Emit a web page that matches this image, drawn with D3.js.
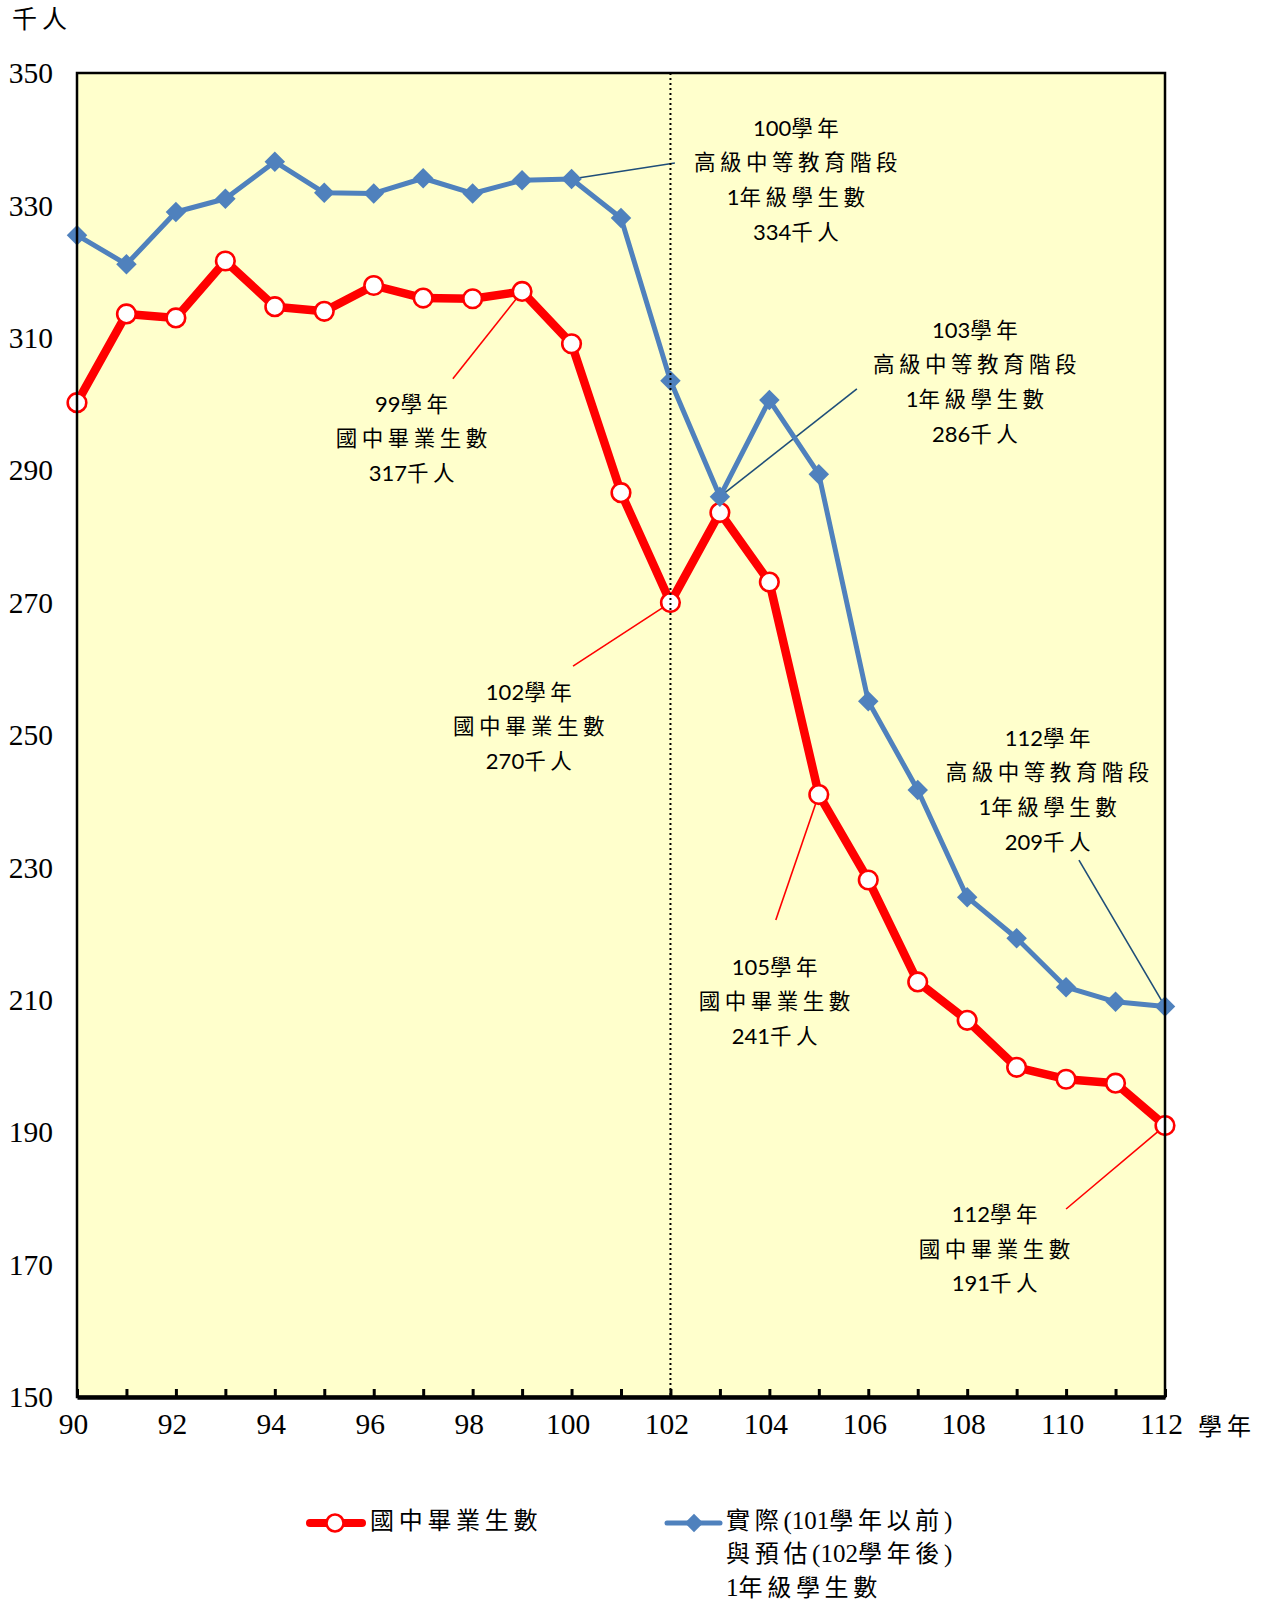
<!DOCTYPE html>
<html>
<head>
<meta charset="utf-8">
<script src="https://cdn.jsdelivr.net/npm/d3@7"></script>
<style>
  html, body { margin: 0; padding: 0; background: #ffffff; }
  svg { display: block; }
</style>
</head>
<body>
<svg id="chart" width="1266" height="1603"></svg>
<script>
// ---------- DATA ----------
const years = [90, 91, 92, 93, 94, 95, 96, 97, 98, 99, 100, 101, 102, 103, 104, 105, 106, 107, 108, 109, 110, 111, 112];
const graduates = [300.2, 313.6, 313.0, 321.6, 314.7, 314.0, 317.9, 316.0, 315.9, 317, 309.1, 286.6, 270, 283.6, 273.1, 241, 228.1, 212.7, 206.9, 199.8, 198.0, 197.4, 191];
const firstGrade = [325.5, 321.1, 329.0, 331.0, 336.6, 331.9, 331.8, 334.1, 331.8, 333.8, 334, 328.1, 303.5, 286, 300.6, 289.4, 255.1, 241.7, 225.5, 219.3, 211.9, 209.7, 209];
const yTicks = [150, 170, 190, 210, 230, 250, 270, 290, 310, 330, 350];
const xLabelYears = [90, 92, 94, 96, 98, 100, 102, 104, 106, 108, 110, 112];
const splitYear = 102;
const seriesNames = ["國中畢業生數", ["實際(101學年以前)", "與預估(102學年後)", "1年級學生數"]];
const yUnit = "千人";
const xUnit = "學年";

// annotations: label position (year, value of first line), leader from point to (year, value)
const annotations = [
  { lines: ["100學年", "高級中等教育階段", "1年級學生數", "334千人"], at: [104.54, 341.4], from: [100, 334], to: [102.09, 336.4], series: "blue" },
  { lines: ["103學年", "高級中等教育階段", "1年級學生數", "286千人"], at: [108.16, 310.9], from: [103, 286], to: [105.77, 302.3], series: "blue" },
  { lines: ["112學年", "高級中等教育階段", "1年級學生數", "209千人"], at: [109.63, 249.25], from: [112, 209], to: [110.26, 231.1], series: "blue" },
  { lines: ["99學年", "國中畢業生數", "317千人"], at: [96.77, 299.7], from: [99, 317], to: [97.60, 303.8], series: "red" },
  { lines: ["102學年", "國中畢業生數", "270千人"], at: [99.14, 256.2], from: [102, 270], to: [100.03, 260.4], series: "red" },
  { lines: ["105學年", "國中畢業生數", "241千人"], at: [104.11, 214.65], from: [105, 241], to: [104.13, 222.05], series: "red" },
  { lines: ["112學年", "國中畢業生數", "191千人"], at: [108.56, 177.3], from: [112, 191], to: [110.0, 178.4], series: "red" }
];

// ---------- LAYOUT ----------
const plot = { left: 77, right: 1165, top: 73, bottom: 1397 };
const RED = "#FF0000", BLUE = "#4F81BD", NAVY = "#1F4E79", BG = "#FFFFCC";
const CJK = "'Noto Sans CJK TC', 'Noto Sans CJK SC', sans-serif";
const SERIF = "'Liberation Serif', 'Times New Roman', serif";
const SANS = "Lato, 'Liberation Sans', sans-serif";

const svg = d3.select("#chart");
const x = d3.scaleLinear().domain([90, 112]).range([plot.left, plot.right]);
const y = d3.scaleLinear().domain([150, 350]).range([plot.bottom, plot.top]);

// mixed text helper: CJK runs get letter spacing, latin runs use latin font
function richText(textSel, str, opt) {
  const parts = str.split(/([\u3000-\u9fff\uff00-\uffef]+)/).filter(s => s.length);
  parts.forEach(p => {
    const isCJK = /[\u3000-\u9fff\uff00-\uffef]/.test(p);
    textSel.append("tspan")
      .text(p)
      .attr("font-family", isCJK ? CJK : opt.latinFamily)
      .attr("font-size", isCJK ? opt.cjkSize : opt.latinSize)
      .attr("letter-spacing", isCJK ? opt.spacing : 0);
  });
}

// background
svg.append("rect")
  .attr("x", plot.left).attr("y", plot.top)
  .attr("width", plot.right - plot.left).attr("height", plot.bottom - plot.top)
  .attr("fill", BG);

// leader lines (below markers)
const gLead = svg.append("g");
annotations.forEach(a => {
  gLead.append("line")
    .attr("x1", x(a.from[0])).attr("y1", y(a.from[1]))
    .attr("x2", x(a.to[0])).attr("y2", y(a.to[1]))
    .attr("stroke", a.series === "red" ? RED : NAVY)
    .attr("stroke-width", 1.6);
});

const redData = years.map((yr, i) => [yr, graduates[i]]);
const blueData = years.map((yr, i) => [yr, firstGrade[i]]);
const line = d3.line().x(d => x(d[0])).y(d => y(d[1]));

// red series
svg.append("path").datum(redData)
  .attr("d", line).attr("fill", "none")
  .attr("stroke", RED).attr("stroke-width", 8.5).attr("stroke-linejoin", "round");
svg.append("g").selectAll("circle").data(redData).join("circle")
  .attr("cx", d => x(d[0])).attr("cy", d => y(d[1]))
  .attr("r", 9.3).attr("fill", "#fff").attr("stroke", RED).attr("stroke-width", 2.6);

// blue series
svg.append("path").datum(blueData)
  .attr("d", line).attr("fill", "none")
  .attr("stroke", BLUE).attr("stroke-width", 5).attr("stroke-linejoin", "round");
svg.append("g").selectAll("path").data(blueData).join("path")
  .attr("d", d3.symbol().type(d3.symbolSquare).size(210))
  .attr("transform", d => `translate(${x(d[0])},${y(d[1])}) rotate(45)`)
  .attr("fill", BLUE);

// dotted split line
svg.append("line")
  .attr("x1", x(splitYear)).attr("x2", x(splitYear))
  .attr("y1", plot.top).attr("y2", plot.bottom)
  .attr("stroke", "#000").attr("stroke-width", 2)
  .attr("stroke-dasharray", "2,3");

// frame
svg.append("rect")
  .attr("x", plot.left).attr("y", plot.top)
  .attr("width", plot.right - plot.left).attr("height", plot.bottom - plot.top)
  .attr("fill", "none").attr("stroke", "#000").attr("stroke-width", 2.5);

// x axis
const xAxis = d3.axisBottom(x)
  .tickValues(years)
  .tickSizeInner(-8).tickSizeOuter(0)
  .tickPadding(16)
  .tickFormat(d => xLabelYears.includes(d) ? String(d) : "");
const gx = svg.append("g").attr("transform", `translate(0,${plot.bottom})`).call(xAxis);
gx.select(".domain").attr("stroke", "#000").attr("stroke-width", 4.5);
gx.selectAll(".tick line").attr("stroke", "#000").attr("stroke-width", 3);
gx.selectAll(".tick text")
  .attr("font-family", SERIF).attr("font-size", 29.5).attr("fill", "#000")
  .attr("dx", -4)
  .attr("dy", "0.7em");

// y axis
const yAxis = d3.axisLeft(y).tickValues(yTicks).tickSize(0).tickPadding(24);
const gy = svg.append("g").attr("transform", `translate(${plot.left},0)`).call(yAxis);
gy.select(".domain").remove();
gy.selectAll(".tick text")
  .attr("font-family", SERIF).attr("font-size", 29.5).attr("fill", "#000")
  .attr("dy", "0.33em");

// axis units
svg.append("text").attr("x", 12).attr("y", 28)
  .attr("font-family", CJK).attr("font-size", 25).attr("letter-spacing", 5)
  .attr("fill", "#000").text(yUnit);
svg.append("text").attr("x", 1198).attr("y", 1435)
  .attr("font-family", CJK).attr("font-size", 24).attr("letter-spacing", 5)
  .attr("fill", "#000").text(xUnit);

// annotations text
const lineH = 34.7;
annotations.forEach(a => {
  a.lines.forEach((ln, i) => {
    const t = svg.append("text")
      .attr("x", x(a.at[0]) + 2).attr("y", y(a.at[1]) + i * lineH)
      .attr("dy", "0.36em")
      .attr("text-anchor", "middle")
      .attr("fill", "#000");
    richText(t, ln, { cjkSize: 21.5, latinFamily: SANS, latinSize: 22, spacing: 4.5 });
  });
});

// legend
const legendY = 1523;
const lg = svg.append("g");
lg.append("line").attr("x1", 310).attr("x2", 362).attr("y1", legendY).attr("y2", legendY)
  .attr("stroke", RED).attr("stroke-width", 8).attr("stroke-linecap", "round");
lg.append("circle").attr("cx", 335).attr("cy", legendY).attr("r", 8.5)
  .attr("fill", "#fff").attr("stroke", RED).attr("stroke-width", 2.6);
const t1 = lg.append("text").attr("x", 370).attr("y", legendY).attr("dy", "0.36em").attr("fill", "#000");
richText(t1, seriesNames[0], { cjkSize: 24, latinFamily: SERIF, latinSize: 25, spacing: 4.7 });

lg.append("line").attr("x1", 667).attr("x2", 720).attr("y1", legendY).attr("y2", legendY)
  .attr("stroke", BLUE).attr("stroke-width", 5).attr("stroke-linecap", "round");
lg.append("path").attr("d", d3.symbol().type(d3.symbolSquare).size(170))
  .attr("transform", `translate(694,${legendY}) rotate(45)`).attr("fill", BLUE);
seriesNames[1].forEach((ln, i) => {
  const t = lg.append("text").attr("x", 726).attr("y", legendY + i * 33.7).attr("dy", "0.36em").attr("fill", "#000");
  richText(t, ln, { cjkSize: 24, latinFamily: SERIF, latinSize: 25, spacing: 4.7 });
});
</script>
</body>
</html>
